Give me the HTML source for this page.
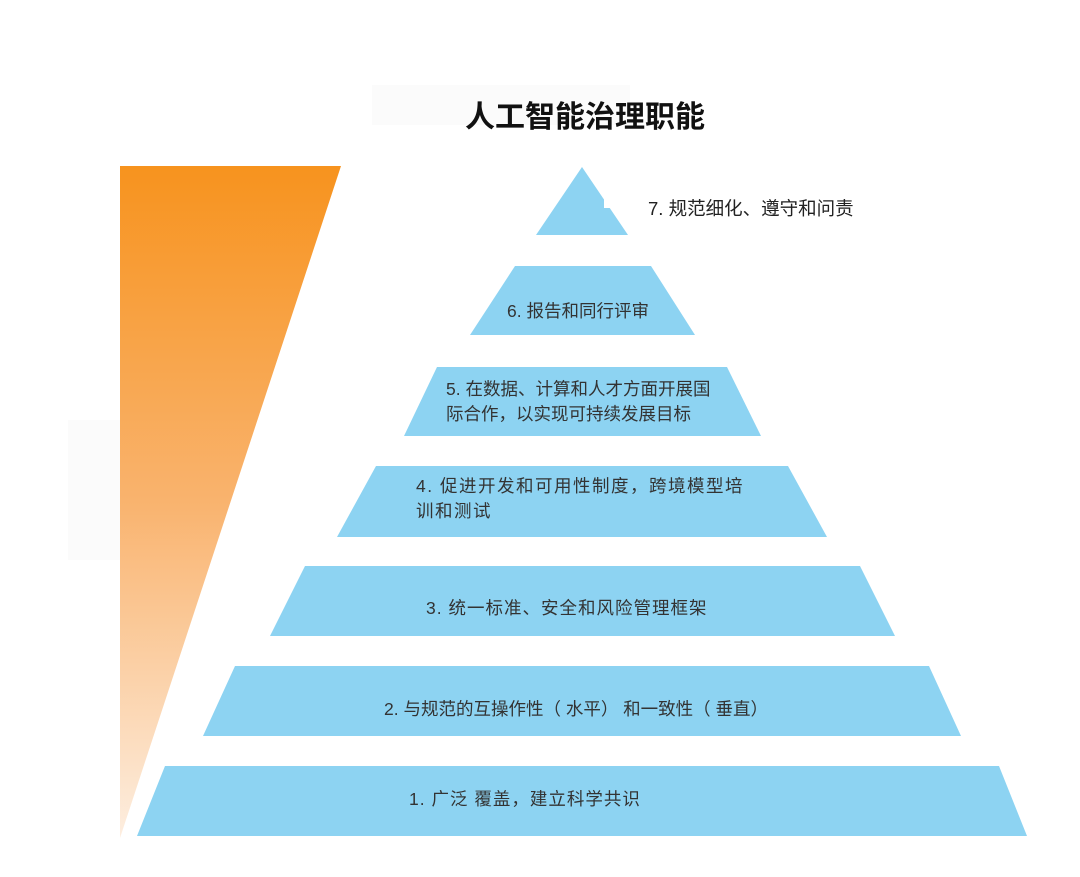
<!DOCTYPE html>
<html><head><meta charset="utf-8"><style>
html,body{margin:0;padding:0;background:#fff;}
body{width:1080px;height:877px;position:relative;overflow:hidden;font-family:"Liberation Sans","Noto Sans CJK SC",sans-serif;}
svg{position:absolute;left:0;top:0;}
.t{position:absolute;color:#333;font-size:17.5px;line-height:25px;white-space:nowrap;}
</style></head><body>
<svg width="1080" height="877">
<defs><linearGradient id="g" x1="0" y1="0" x2="0" y2="1">
<stop offset="0" stop-color="#f7931e"/><stop offset="0.5" stop-color="#f9b36e"/><stop offset="1" stop-color="#fdeee0"/></linearGradient></defs>
<rect x="372" y="85" width="258" height="40" fill="#fbfbfb"/>
<rect x="68" y="420" width="52" height="140" fill="#fbfbfb"/>
<polygon points="120,166 341,166 120,838" fill="url(#g)"/>
<g fill="#8dd3f2">
<polygon points="582,167 628,235 536,235"/>
<polygon points="515,266 651,266 695,335 470,335"/>
<polygon points="437,367 727,367 761,436 404,436"/>
<polygon points="376,466 788,466 827,537 337,537"/>
<polygon points="305,566 860,566 895,636 270,636"/>
<polygon points="235,666 929,666 961,736 203,736"/>
<polygon points="165,766 999,766 1027,836 137,836"/>
</g>
<rect x="604" y="186" width="60" height="22" fill="#fff"/>
</svg>
<div class="t" style="left:0;width:1170px;text-align:center;top:98px;font-size:30px;line-height:40px;font-weight:bold;color:#111;">人工智能治理职能</div>
<div class="t" style="left:648px;top:196px;font-size:18.5px;color:#222;">7. 规范细化、遵守和问责</div>
<div class="t" style="left:507px;top:299px;">6. 报告和同行评审</div>
<div class="t" style="left:446px;top:377px;">5. 在数据、计算和人才方面开展国<br>际合作，以实现可持续发展目标</div>
<div class="t" style="left:416px;top:474px;letter-spacing:1.5px;">4. 促进开发和可用性制度，跨境模型培<br>训和测试</div>
<div class="t" style="left:426px;top:596px;letter-spacing:1px;">3. 统一标准、安全和风险管理框架</div>
<div class="t" style="left:384px;top:697px;">2. 与规范的互操作性（ 水平） 和一致性（ 垂直）</div>
<div class="t" style="left:409px;top:787px;letter-spacing:1px;">1. 广泛 覆盖，建立科学共识</div>
</body></html>
